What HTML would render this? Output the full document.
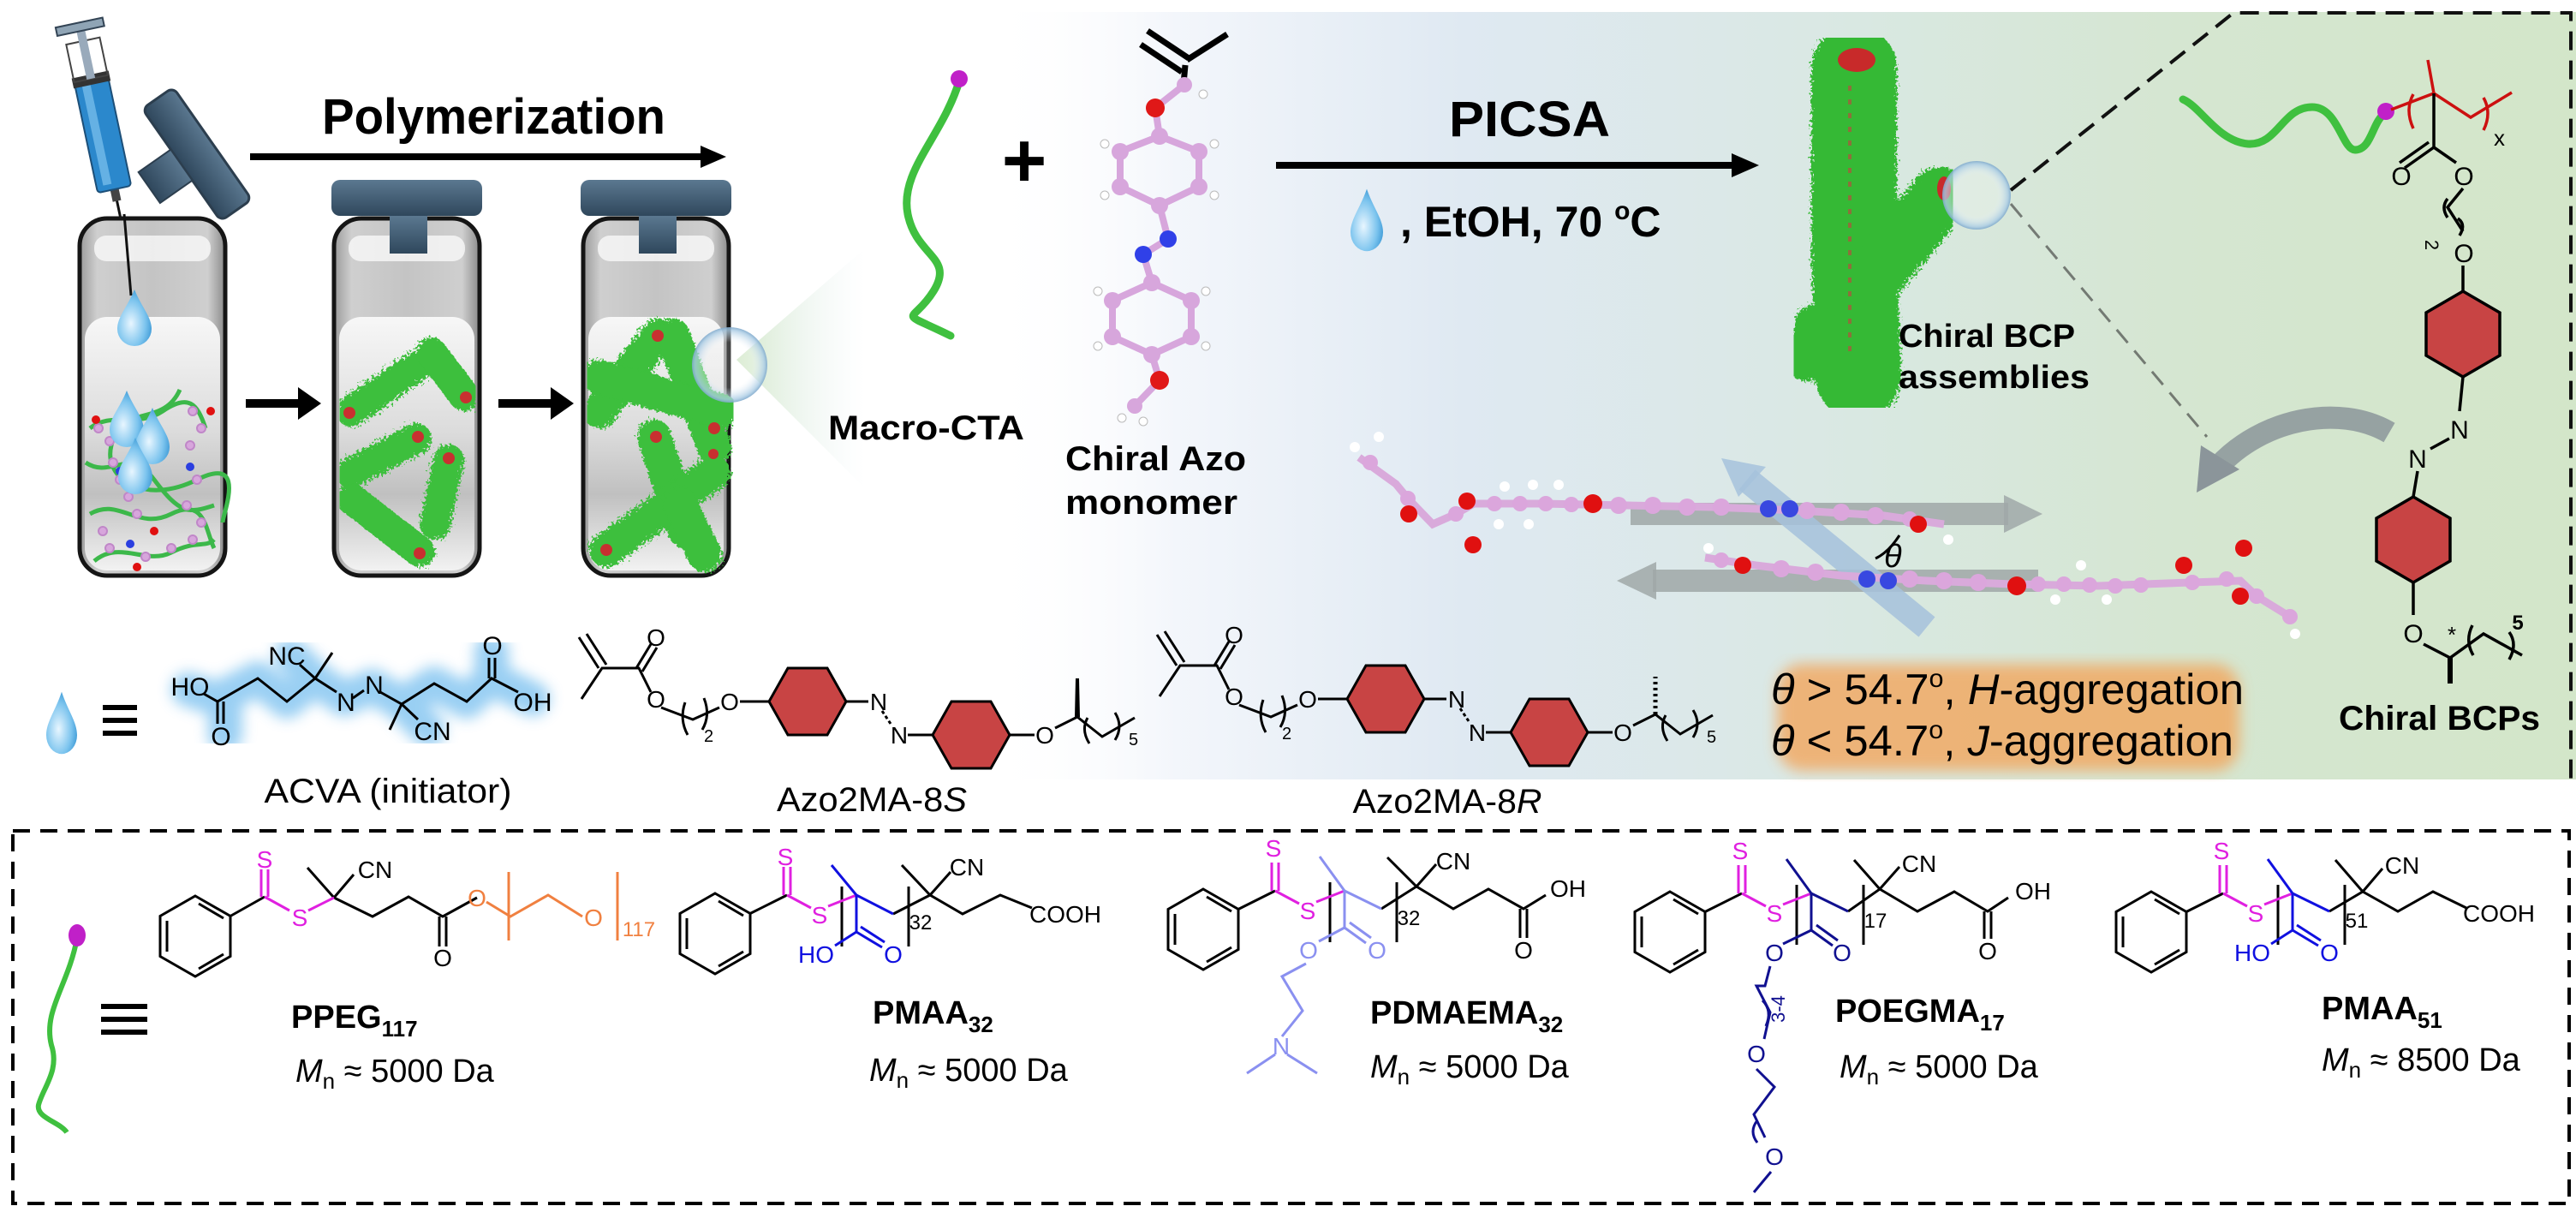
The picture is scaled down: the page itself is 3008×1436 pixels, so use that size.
<!DOCTYPE html>
<html><head><meta charset="utf-8"><style>
html,body{margin:0;padding:0;background:#fff;}
svg{display:block;}
text{font-family:"Liberation Sans",Arial,sans-serif;}
</style></head><body>
<svg width="3008" height="1436" viewBox="0 0 3008 1436" xmlns="http://www.w3.org/2000/svg">
<defs>
<linearGradient id="panel" x1="0" x2="1" y1="0" y2="0">
<stop offset="0" stop-color="#ffffff" stop-opacity="0"/>
<stop offset="0.12" stop-color="#f3f6fb"/>
<stop offset="0.3" stop-color="#dfe9f2"/>
<stop offset="0.55" stop-color="#d9e8e2"/>
<stop offset="0.75" stop-color="#d5e6d1"/>
<stop offset="1" stop-color="#d3e6c9"/>
</linearGradient>
<linearGradient id="vial" x1="0" x2="1">
<stop offset="0" stop-color="#9a9a9a"/><stop offset="0.12" stop-color="#cfcfcf"/><stop offset="0.5" stop-color="#c4c4c4"/><stop offset="0.88" stop-color="#cfcfcf"/><stop offset="1" stop-color="#8a8a8a"/>
</linearGradient>
<linearGradient id="liq" x1="0" y1="0" x2="0" y2="1">
<stop offset="0" stop-color="#f7f7f7"/><stop offset="0.45" stop-color="#dcdcdc"/><stop offset="0.7" stop-color="#c0c0c0"/><stop offset="1" stop-color="#f2f2f2"/>
</linearGradient>
<linearGradient id="cap" x1="0" x2="0" y1="0" y2="1">
<stop offset="0" stop-color="#5b7890"/><stop offset="1" stop-color="#2f475c"/>
</linearGradient>
<linearGradient id="cone" x1="0" x2="1">
<stop offset="0" stop-color="#cfe6c4" stop-opacity="0.9"/><stop offset="1" stop-color="#e8f1f6" stop-opacity="0"/>
</linearGradient>
<radialGradient id="drop" cx="0.4" cy="0.6" r="0.7">
<stop offset="0" stop-color="#e8f6ff"/><stop offset="0.6" stop-color="#7cc4ee"/><stop offset="1" stop-color="#2d8fd0"/>
</radialGradient>
<radialGradient id="bub" cx="0.5" cy="0.5" r="0.5">
<stop offset="0.6" stop-color="#ffffff" stop-opacity="0.2"/><stop offset="0.92" stop-color="#a9cbe4" stop-opacity="0.8"/><stop offset="1" stop-color="#7fa9cc" stop-opacity="0.9"/>
</radialGradient>
<filter id="blur8"><feGaussianBlur stdDeviation="8"/></filter>
<filter id="blur4"><feGaussianBlur stdDeviation="4"/></filter>
<filter id="fuzz"><feTurbulence type="fractalNoise" baseFrequency="0.35" numOctaves="2" result="n"/><feDisplacementMap in="SourceGraphic" in2="n" scale="14"/></filter>
<path id="dropP" d="M0,-34 C8,-14 20,-2 20,12 A20,20 0 0 1 -20,12 C-20,-2 -8,-14 0,-34Z"/>
</defs>

<!-- background panel -->
<rect x="1150" y="14" width="1858" height="896" fill="url(#panel)"/>
<polygon points="860,420 1010,290 1010,570" fill="url(#cone)"/>

<!-- Polymerization -->
<text x="376" y="156" font-size="58" font-weight="bold" textLength="401" lengthAdjust="spacingAndGlyphs">Polymerization</text>
<line x1="292" y1="183" x2="820" y2="183" stroke="#000" stroke-width="8"/>
<polygon points="818,170 848,183 818,196" fill="#000"/>

<!-- syringe -->
<g transform="translate(153,312) rotate(-12)">
<line x1="0" y1="0" x2="0" y2="-80" stroke="#111" stroke-width="3"/>
<rect x="-5" y="-95" width="10" height="16" fill="#444"/>
<rect x="-20" y="-225" width="40" height="132" rx="4" fill="#2b88cc" stroke="#1d4f78" stroke-width="2"/>
<rect x="-12" y="-220" width="10" height="120" fill="#7fc3ee" opacity="0.7"/>
<rect x="-22" y="-230" width="44" height="12" fill="#333"/>
<rect x="-20" y="-270" width="40" height="45" fill="none" stroke="#444" stroke-width="2"/>
<rect x="-5" y="-285" width="10" height="60" fill="#9ab"/>
<rect x="-28" y="-292" width="56" height="10" fill="#8fa4b5" stroke="#345" stroke-width="2"/>
</g>
<!-- tilted cap -->
<g transform="translate(230,180) rotate(55)">
<rect x="-80" y="-22" width="160" height="44" rx="8" fill="url(#cap)" stroke="#2c3e4e" stroke-width="3"/>
<rect x="-22" y="22" width="44" height="46" fill="url(#cap)" stroke="#2c3e4e" stroke-width="2"/>
</g>

<!-- vials -->
<g>
<rect x="93" y="255" width="170" height="417" rx="32" fill="url(#vial)" stroke="#151515" stroke-width="5"/>
<rect x="110" y="275" width="136" height="30" rx="14" fill="#fff" opacity="0.7"/>
<rect x="99" y="370" width="158" height="296" rx="26" fill="url(#liq)"/>
<line x1="145" y1="250" x2="153" y2="345" stroke="#111" stroke-width="3"/>
<use href="#dropP" transform="translate(157,372)" fill="url(#drop)"/>
<g fill="none" stroke="#3cb84a" stroke-width="5">
<path d="M210,455 C190,500 140,470 130,520 C120,560 170,590 230,560 S260,600 260,610"/>
<path d="M105,500 C130,480 160,500 190,480 S230,470 240,500"/>
<path d="M100,540 C130,560 150,520 180,560 S220,600 250,590"/>
<path d="M105,600 C140,580 160,620 200,600 S240,620 250,640"/>
<path d="M110,655 C140,630 170,660 200,645 S240,640 250,630"/>
</g>
<g fill="#d7a6dc" stroke="#c087c8" stroke-width="2">
<circle cx="115" cy="500" r="5"/><circle cx="128" cy="515" r="5"/><circle cx="132" cy="540" r="5"/><circle cx="140" cy="560" r="5"/><circle cx="150" cy="580" r="5"/><circle cx="160" cy="600" r="5"/>
<circle cx="225" cy="480" r="5"/><circle cx="235" cy="500" r="5"/><circle cx="222" cy="520" r="5"/><circle cx="230" cy="560" r="5"/><circle cx="218" cy="590" r="5"/><circle cx="235" cy="610" r="5"/>
<circle cx="120" cy="620" r="5"/><circle cx="128" cy="640" r="5"/><circle cx="170" cy="650" r="5"/><circle cx="200" cy="640" r="5"/><circle cx="225" cy="630" r="5"/>
</g>
<g fill="#2b3fe0"><circle cx="140" cy="550" r="5"/><circle cx="222" cy="545" r="5"/><circle cx="152" cy="635" r="5"/></g>
<g fill="#e01010"><circle cx="112" cy="490" r="5"/><circle cx="246" cy="480" r="5"/><circle cx="180" cy="620" r="5"/><circle cx="160" cy="662" r="5"/></g>
<use href="#dropP" transform="translate(148,490)" fill="url(#drop)"/>
<use href="#dropP" transform="translate(178,510)" fill="url(#drop)"/>
<use href="#dropP" transform="translate(158,545)" fill="url(#drop)"/>
</g>
<g>
<rect x="390" y="255" width="170" height="417" rx="32" fill="url(#vial)" stroke="#151515" stroke-width="5"/>
<rect x="407" y="275" width="136" height="30" rx="14" fill="#fff" opacity="0.7"/>
<rect x="396" y="370" width="158" height="296" rx="26" fill="url(#liq)"/>
<rect x="387" y="210" width="176" height="42" rx="10" fill="url(#cap)"/>
<rect x="455" y="252" width="44" height="44" fill="url(#cap)"/>
<g stroke="#3cbf3c" stroke-width="36" stroke-linecap="round" filter="url(#fuzz)">
<line x1="410" y1="480" x2="486" y2="428"/><line x1="504" y1="412" x2="542" y2="462"/><line x1="410" y1="552" x2="486" y2="512"/><line x1="524" y1="537" x2="508" y2="612"/><line x1="410" y1="582" x2="490" y2="644"/>
</g>
<g fill="#c83030"><circle cx="408" cy="482" r="7"/><circle cx="544" cy="464" r="7"/><circle cx="488" cy="510" r="7"/><circle cx="524" cy="535" r="7"/><circle cx="490" cy="646" r="7"/></g>
</g>
<g>
<rect x="681" y="255" width="170" height="417" rx="32" fill="url(#vial)" stroke="#151515" stroke-width="5"/>
<rect x="698" y="275" width="136" height="30" rx="14" fill="#fff" opacity="0.7"/>
<rect x="687" y="370" width="158" height="296" rx="26" fill="url(#liq)"/>
<rect x="678" y="210" width="176" height="42" rx="10" fill="url(#cap)"/>
<rect x="746" y="252" width="44" height="44" fill="url(#cap)"/>
<g stroke="#3cbf3c" stroke-width="40" stroke-linecap="round" filter="url(#fuzz)">
<line x1="700" y1="480" x2="768" y2="392"/><line x1="786" y1="392" x2="834" y2="522"/><line x1="700" y1="440" x2="842" y2="480"/><line x1="764" y1="510" x2="800" y2="620"/><line x1="708" y1="642" x2="833" y2="552"/><line x1="794" y1="588" x2="823" y2="648"/>
</g>
<g fill="#c83030"><circle cx="768" cy="392" r="7"/><circle cx="834" cy="500" r="7"/><circle cx="766" cy="510" r="7"/><circle cx="708" cy="642" r="7"/><circle cx="833" cy="530" r="6"/></g>
<circle cx="852" cy="426" r="44" fill="url(#bub)"/>
</g>
<line x1="287" y1="471" x2="350" y2="471" stroke="#000" stroke-width="10"/><polygon points="348,452 375,471 348,490" fill="#000"/>
<line x1="582" y1="471" x2="645" y2="471" stroke="#000" stroke-width="10"/><polygon points="643,452 670,471 643,490" fill="#000"/>

<!-- macro-CTA -->
<path d="M1120,95 C1100,160 1050,200 1060,250 C1070,300 1115,300 1090,340 C1065,380 1045,360 1110,392" fill="none" stroke="#3fc03f" stroke-width="9" stroke-linecap="round"/>
<circle cx="1120" cy="92" r="10" fill="#c020c8"/>
<text x="967" y="513" font-size="40" font-weight="bold" textLength="229" lengthAdjust="spacingAndGlyphs">Macro-CTA</text>
<text x="1196" y="218" font-size="90" font-weight="bold" text-anchor="middle">+</text>

<!-- Azo monomer ball stick -->
<g stroke="#000" stroke-width="7" fill="none">
<line x1="1332" y1="52" x2="1380" y2="84"/><line x1="1340" y1="36" x2="1388" y2="68"/><line x1="1386" y1="70" x2="1433" y2="40"/><line x1="1384" y1="76" x2="1382" y2="98"/>
</g>
<g stroke="#d7a6dc" stroke-width="8" fill="none">
<polyline points="1383,99 1349,126 1354,159"/>
<polygon points="1354,159 1400,177 1400,218 1354,240 1308,218 1308,177"/>
<polyline points="1354,240 1364,279 1335,297 1345,330"/>
<polygon points="1345,330 1391,351 1391,393 1345,414 1299,393 1299,351"/>
<polyline points="1345,414 1354,444 1325,474"/>
</g>
<g fill="#d7a6dc"><circle cx="1383" cy="99" r="9"/><circle cx="1354" cy="159" r="10"/><circle cx="1400" cy="177" r="10"/><circle cx="1400" cy="218" r="10"/><circle cx="1354" cy="240" r="10"/><circle cx="1308" cy="218" r="10"/><circle cx="1308" cy="177" r="10"/><circle cx="1345" cy="330" r="10"/><circle cx="1391" cy="351" r="10"/><circle cx="1391" cy="393" r="10"/><circle cx="1345" cy="414" r="10"/><circle cx="1299" cy="393" r="10"/><circle cx="1299" cy="351" r="10"/><circle cx="1325" cy="474" r="9"/></g>
<g fill="#fff" stroke="#bbb"><circle cx="1405" cy="110" r="5"/><circle cx="1418" cy="168" r="5"/><circle cx="1418" cy="228" r="5"/><circle cx="1290" cy="168" r="5"/><circle cx="1290" cy="228" r="5"/><circle cx="1408" cy="340" r="5"/><circle cx="1408" cy="404" r="5"/><circle cx="1282" cy="340" r="5"/><circle cx="1282" cy="404" r="5"/><circle cx="1310" cy="488" r="5"/><circle cx="1335" cy="492" r="5"/></g>
<g fill="#e01818"><circle cx="1349" cy="126" r="11"/><circle cx="1354" cy="444" r="11"/></g>
<g fill="#3040e8"><circle cx="1364" cy="279" r="10"/><circle cx="1335" cy="297" r="10"/></g>
<text x="1244" y="549" font-size="40" font-weight="bold" textLength="211" lengthAdjust="spacingAndGlyphs">Chiral Azo</text>
<text x="1244" y="600" font-size="40" font-weight="bold" textLength="201" lengthAdjust="spacingAndGlyphs">monomer</text>

<!-- PICSA -->
<text x="1692" y="159" font-size="58" font-weight="bold" textLength="188" lengthAdjust="spacingAndGlyphs">PICSA</text>
<line x1="1490" y1="193" x2="2025" y2="193" stroke="#000" stroke-width="8"/>
<polygon points="2022,179 2054,193 2022,207" fill="#000"/>
<use href="#dropP" transform="translate(1596,258) scale(0.95,1.1)" fill="url(#drop)"/>
<text x="1635" y="276" font-size="50" font-weight="bold">, EtOH, 70 <tspan font-size="30" dy="-20">o</tspan><tspan dy="20">C</tspan></text>

<!-- Chiral BCP assembly -->
<g filter="url(#fuzz)" stroke="#35b935" stroke-linecap="round" fill="none">
<path d="M2165,80 L2165,300 L2170,440" stroke-width="100"/>
<path d="M2190,320 L2265,230" stroke-width="70"/>
<path d="M2120,380 L2110,420" stroke-width="50"/>
</g>
<ellipse cx="2168" cy="70" rx="22" ry="14" fill="#c82a2a"/>
<line x1="2160" y1="100" x2="2160" y2="420" stroke="#c84040" stroke-width="4" stroke-dasharray="6 10" opacity="0.6"/>
<ellipse cx="2270" cy="220" rx="8" ry="14" fill="#c82a2a"/>
<circle cx="2308" cy="228" r="40" fill="url(#bub)"/>
<text x="2217" y="405" font-size="38" font-weight="bold" textLength="206" lengthAdjust="spacingAndGlyphs">Chiral BCP</text>
<text x="2217" y="453" font-size="38" font-weight="bold" textLength="223" lengthAdjust="spacingAndGlyphs">assemblies</text>

<!-- dashed zoom lines -->
<g stroke="#111" stroke-width="4" stroke-dasharray="22 12" fill="none">
<polyline points="2348,222 2608,15 3002,15 3002,910"/>
</g>
<line x1="2348" y1="238" x2="2577" y2="510" stroke="#333" stroke-width="3" stroke-dasharray="20 12" opacity="0.6"/>

<!-- BCP structure -->
<path d="M2549,116 C2570,125 2590,165 2625,168 C2660,170 2665,125 2700,125 C2730,125 2735,175 2750,175 C2770,175 2770,140 2786,132" fill="none" stroke="#3fc03f" stroke-width="9" stroke-linecap="round"/>
<circle cx="2786" cy="130" r="10" fill="#c020c8"/>
<g stroke="#cc1010" stroke-width="3.5" fill="none">
<polyline points="2792,128 2842,109 2885,137 2933,108"/><line x1="2842" y1="109" x2="2835" y2="70"/>
<path d="M2818,110 Q2808,128 2818,150"/><path d="M2900,114 Q2910,132 2900,152"/>
</g>
<text x="2912" y="170" font-size="26">x</text>
<g stroke="#000" stroke-width="3.5" fill="none">
<line x1="2842" y1="109" x2="2842" y2="172"/>
<line x1="2842" y1="172" x2="2808" y2="196"/><line x1="2836" y1="166" x2="2802" y2="190"/>
<line x1="2842" y1="172" x2="2868" y2="190"/>
<polyline points="2876,220 2858,242 2876,270"/>
<path d="M2858,232 Q2850,242 2858,254"/><path d="M2870,255 Q2880,262 2872,275"/>
<line x1="2876" y1="310" x2="2876" y2="340"/>
<polygon points="2876,340 2919,365 2919,415 2876,440 2833,415 2833,365" fill="#c84444"/>
<line x1="2876" y1="440" x2="2872" y2="480"/>
<line x1="2860" y1="512" x2="2838" y2="524"/>
<line x1="2823" y1="550" x2="2818" y2="580"/>
<polygon points="2818,580 2861,605 2861,655 2818,680 2775,655 2775,605" fill="#c84444"/>
<line x1="2818" y1="680" x2="2818" y2="718"/>
<polyline points="2830,752 2861,768 2900,740 2945,765"/>
<line x1="2861" y1="768" x2="2861" y2="798" stroke-width="6"/>
<path d="M2887,730 Q2878,748 2888,765"/><path d="M2930,738 Q2940,752 2930,770"/>
</g>
<g font-size="30" text-anchor="middle">
<text x="2804" y="216">O</text><text x="2877" y="216">O</text><text x="2877" y="306">O</text>
<text x="2872" y="512">N</text><text x="2823" y="546">N</text><text x="2818" y="750">O</text>
<text x="2863" y="750" font-size="26">*</text><text x="2940" y="735" font-size="24" font-weight="bold">5</text>
<text x="2838" y="292" font-size="22" transform="rotate(90 2838 286)">2</text>
</g>
<text x="2731" y="852" font-size="40" font-weight="bold" textLength="235" lengthAdjust="spacingAndGlyphs">Chiral BCPs</text>
<path d="M2790,505 C2730,470 2640,490 2590,545" fill="none" stroke="#8b959a" stroke-width="26" opacity="0.85"/>
<polygon points="2565,575 2570,520 2615,548" fill="#8b959a"/>

<!-- stacked molecules + arrows -->
<line x1="1904" y1="600" x2="2345" y2="600" stroke="#a0a8a8" stroke-width="26" opacity="0.85"/>
<polygon points="2340,578 2385,600 2340,622" fill="#a0a8a8" opacity="0.85"/>
<line x1="1930" y1="678" x2="2380" y2="678" stroke="#a0a8a8" stroke-width="26" opacity="0.85"/>
<polygon points="1934,656 1888,678 1934,700" fill="#a0a8a8" opacity="0.85"/>
<line x1="2040" y1="560" x2="2250" y2="732" stroke="#a6c2dc" stroke-width="30" opacity="0.85"/>
<polygon points="2010,535 2062,545 2030,580" fill="#a6c2dc" opacity="0.85"/>
<g stroke="#d9aadb" stroke-width="9" fill="none">
<polyline points="1587,534 1630,565 1644,582 1673,612 1700,600 1721,588 1800,588 1900,590 2000,592 2100,596 2200,602 2270,612"/>
<polyline points="1991,651 2050,660 2150,672 2250,678 2350,682 2450,684 2558,680 2616,678 2635,696 2674,720"/>
</g>
<g fill="#dba6dc">
<circle cx="1600" cy="540" r="9"/><circle cx="1644" cy="582" r="9"/><circle cx="1700" cy="600" r="9"/><circle cx="1745" cy="588" r="9"/><circle cx="1775" cy="588" r="9"/><circle cx="1805" cy="588" r="9"/><circle cx="1835" cy="589" r="9"/><circle cx="1890" cy="590" r="10"/><circle cx="1930" cy="590" r="10"/><circle cx="1970" cy="592" r="10"/><circle cx="2010" cy="592" r="10"/><circle cx="2110" cy="596" r="10"/><circle cx="2150" cy="598" r="10"/><circle cx="2190" cy="602" r="10"/><circle cx="2230" cy="606" r="9"/>
<circle cx="2010" cy="654" r="9"/><circle cx="2080" cy="664" r="10"/><circle cx="2120" cy="668" r="10"/><circle cx="2230" cy="676" r="10"/><circle cx="2270" cy="678" r="10"/><circle cx="2310" cy="680" r="10"/><circle cx="2380" cy="682" r="9"/><circle cx="2410" cy="682" r="9"/><circle cx="2440" cy="683" r="9"/><circle cx="2470" cy="684" r="9"/><circle cx="2500" cy="683" r="9"/><circle cx="2560" cy="680" r="9"/><circle cx="2600" cy="676" r="9"/><circle cx="2635" cy="696" r="9"/><circle cx="2674" cy="720" r="9"/>
</g>
<g fill="#fff"><circle cx="1582" cy="522" r="6"/><circle cx="1610" cy="510" r="6"/><circle cx="1757" cy="568" r="6"/><circle cx="1790" cy="566" r="6"/><circle cx="1820" cy="566" r="6"/><circle cx="1750" cy="612" r="6"/><circle cx="1785" cy="612" r="6"/><circle cx="2275" cy="630" r="6"/><circle cx="2400" cy="700" r="6"/><circle cx="2430" cy="660" r="6"/><circle cx="2460" cy="700" r="6"/><circle cx="2680" cy="740" r="6"/><circle cx="1995" cy="640" r="6"/></g>
<g fill="#e01010"><circle cx="1645" cy="600" r="10"/><circle cx="1720" cy="636" r="10"/><circle cx="1713" cy="585" r="10"/><circle cx="1860" cy="588" r="11"/><circle cx="2240" cy="612" r="10"/><circle cx="2035" cy="660" r="10"/><circle cx="2355" cy="684" r="11"/><circle cx="2550" cy="660" r="10"/><circle cx="2616" cy="696" r="10"/><circle cx="2620" cy="640" r="10"/></g>
<g fill="#3848e0"><circle cx="2065" cy="594" r="10"/><circle cx="2090" cy="594" r="10"/><circle cx="2180" cy="676" r="10"/><circle cx="2205" cy="678" r="10"/></g>
<path d="M2218,625 Q2205,645 2190,652" fill="none" stroke="#000" stroke-width="3"/>
<text x="2200" y="662" font-size="38" font-style="italic">θ</text>

<!-- theta box -->
<rect x="2075" y="775" width="540" height="125" rx="30" fill="#f4a254" opacity="0.75" filter="url(#blur8)"/>
<text x="2068" y="822" font-size="50" textLength="552" lengthAdjust="spacingAndGlyphs"><tspan font-style="italic">θ</tspan> &gt; 54.7<tspan font-size="30" dy="-20">o</tspan><tspan dy="20">, </tspan><tspan font-style="italic">H</tspan>-aggregation</text>
<text x="2068" y="882" font-size="50" textLength="540" lengthAdjust="spacingAndGlyphs"><tspan font-style="italic">θ</tspan> &lt; 54.7<tspan font-size="30" dy="-20">o</tspan><tspan dy="20">, </tspan><tspan font-style="italic">J</tspan>-aggregation</text>

<!-- ACVA row -->
<use href="#dropP" transform="translate(72,845) scale(0.9,1.1)" fill="url(#drop)"/>
<g stroke="#000" stroke-width="6"><line x1="120" y1="826" x2="160" y2="826"/><line x1="120" y1="841" x2="160" y2="841"/><line x1="120" y1="856" x2="160" y2="856"/></g>
<g filter="url(#blur8)" stroke="#8fcaf2" stroke-width="40" fill="none" stroke-linecap="round" stroke-linejoin="round" opacity="0.9">
<polyline points="220,805 254,816 301,792 335,819 368,792 402,816 435,801 469,822 507,798 545,819 574,792 622,816"/>
<line x1="263" y1="820" x2="263" y2="858"/><line x1="368" y1="792" x2="340" y2="765"/><line x1="469" y1="822" x2="500" y2="852"/><line x1="574" y1="792" x2="574" y2="760"/>
</g>
<g stroke="#000" stroke-width="3" fill="none">
<polyline points="238,810 254,819 301,792 335,819 368,792 393,808"/>
<line x1="254" y1="819" x2="254" y2="845"/><line x1="261" y1="819" x2="261" y2="845"/>
<line x1="368" y1="792" x2="388" y2="762"/><line x1="368" y1="792" x2="350" y2="776"/>
<line x1="412" y1="815" x2="425" y2="806"/>
<polyline points="444,808 469,822 507,798 545,819 574,792 605,808"/>
<line x1="469" y1="822" x2="455" y2="852"/><line x1="469" y1="822" x2="488" y2="840"/>
<line x1="571" y1="792" x2="571" y2="768"/><line x1="578" y1="792" x2="578" y2="768"/>
</g>
<g font-size="30" text-anchor="middle">
<text x="222" y="812">HO</text><text x="258" y="870">O</text><text x="335" y="776">NC</text><text x="404" y="830">N</text><text x="437" y="810">N</text><text x="505" y="864">CN</text><text x="575" y="764">O</text><text x="622" y="830">OH</text>
</g>
<text x="453" y="937" font-size="40" text-anchor="middle" textLength="289" lengthAdjust="spacingAndGlyphs">ACVA (initiator)</text>

<!-- Azo2MA-8S -->
<g id="azoS">
<g stroke="#000" stroke-width="3" fill="none">
<polyline points="679,816 703,780 746,780 760,808"/><line x1="676" y1="744" x2="699" y2="780"/><line x1="685" y1="740" x2="708" y2="776"/>
<line x1="743" y1="780" x2="760" y2="752"/><line x1="750" y1="784" x2="767" y2="756"/>
<polyline points="772,826 809,840 840,826"/>
<path d="M800,820 Q793,840 803,858"/><path d="M822,815 Q830,835 820,852"/>
<line x1="864" y1="819" x2="898" y2="819"/>
<polygon points="898,819 920,780 966,780 988,819 966,858 920,858" fill="#c84444"/>
<line x1="988" y1="819" x2="1014" y2="819"/><line x1="1030" y1="830" x2="1040" y2="845" stroke-dasharray="4 3"/>
<line x1="1060" y1="858" x2="1089" y2="858"/>
<polygon points="1089,858 1111,819 1157,819 1179,858 1157,897 1111,897" fill="#c84444"/>
<line x1="1179" y1="858" x2="1208" y2="858"/>
<polyline points="1232,850 1258,837 1287,860 1325,838"/>
<path d="M1270,838 Q1262,852 1272,868"/><path d="M1302,832 Q1312,848 1302,864"/>
</g>
<g font-size="28" text-anchor="middle"><text x="766" y="754">O</text><text x="766" y="826">O</text><text x="852" y="829">O</text><text x="1026" y="829">N</text><text x="1050" y="868">N</text><text x="1220" y="868">O</text></g>
<g font-size="20"><text x="822" y="866">2</text><text x="1318" y="870">5</text></g>
</g>
<polygon points="1255,837 1261,837 1260,792 1256,792" fill="#000"/>
<text x="1018" y="947" font-size="40" text-anchor="middle" textLength="222" lengthAdjust="spacingAndGlyphs">Azo2MA-8<tspan font-style="italic">S</tspan></text>
<use href="#azoS" transform="translate(675,-3)"/>
<line x1="1933" y1="834" x2="1933" y2="790" stroke="#000" stroke-width="5" stroke-dasharray="3 4"/>
<text x="1690" y="949" font-size="40" text-anchor="middle" textLength="221" lengthAdjust="spacingAndGlyphs">Azo2MA-8<tspan font-style="italic">R</tspan></text>

<!-- bottom dashed box -->
<rect x="15" y="970" width="2985" height="435" fill="none" stroke="#000" stroke-width="4" stroke-dasharray="20 12"/>
<path d="M90,1095 C80,1150 50,1180 60,1220 C70,1250 50,1270 45,1290 C42,1305 70,1310 78,1322" fill="none" stroke="#3fc03f" stroke-width="6"/>
<ellipse cx="90" cy="1092" rx="10" ry="13" fill="#c020c8"/>
<g stroke="#000" stroke-width="6"><line x1="118" y1="1175" x2="172" y2="1175"/><line x1="118" y1="1190" x2="172" y2="1190"/><line x1="118" y1="1205" x2="172" y2="1205"/></g>

<!-- PPEG -->
<g transform="translate(228,1093)">
<g stroke="#000" stroke-width="3" fill="none">
<polygon points="0,-47 41,-23.5 41,23.5 0,47 -41,23.5 -41,-23.5"/>
<line x1="-33" y1="-18" x2="-33" y2="18"/><line x1="4" y1="38" x2="33" y2="21"/><line x1="4" y1="-38" x2="33" y2="-21"/>
<line x1="41" y1="-23.5" x2="81" y2="-46"/>
<polyline points="131,-80 162,-45 207,-23 249,-46 289,-23 329,-45"/><line x1="162" y1="-45" x2="185" y2="-72"/>
<line x1="285" y1="-23" x2="285" y2="12"/><line x1="293" y1="-23" x2="293" y2="12"/>
</g>
<g stroke="#e020e0" stroke-width="3" fill="none"><line x1="77" y1="-46" x2="77" y2="-78"/><line x1="85" y1="-46" x2="85" y2="-78"/><line x1="81" y1="-46" x2="110" y2="-30"/><line x1="132" y1="-30" x2="162" y2="-45"/></g>
<g stroke="#f08040" stroke-width="3" fill="none"><polyline points="340,-40 368,-23 412,-48 452,-23"/><line x1="366" y1="-75" x2="366" y2="5"/><line x1="493" y1="-75" x2="493" y2="5"/></g>
<g font-size="28" text-anchor="middle">
<text x="81" y="-80" fill="#e020e0">S</text><text x="122" y="-12" fill="#e020e0">S</text>
<text x="210" y="-68">CN</text><text x="289" y="35">O</text>
<text x="329" y="-35" fill="#f08040">O</text><text x="465" y="-12" fill="#f08040">O</text>
<text x="518" y="0" fill="#f08040" font-size="24">117</text>
</g>
</g>
<text x="340" y="1200" font-size="38" font-weight="bold">PPEG<tspan font-size="26" dy="10">117</tspan></text>
<text x="345" y="1263" font-size="38"><tspan font-style="italic">M</tspan><tspan font-size="26" dy="8">n</tspan><tspan dy="-8"> ≈ 5000 Da</tspan></text>

<!-- PMAA32 -->
<g transform="translate(835,1090)">
<g stroke="#000" stroke-width="3" fill="none">
<polygon points="0,-47 41,-23.5 41,23.5 0,47 -41,23.5 -41,-23.5"/>
<line x1="-33" y1="-18" x2="-33" y2="18"/><line x1="4" y1="38" x2="33" y2="21"/><line x1="4" y1="-38" x2="33" y2="-21"/>
<line x1="41" y1="-23.5" x2="84" y2="-45"/>
<polyline points="208,-23 251,-45 289,-23 333,-45 370,-30"/><line x1="251" y1="-45" x2="218" y2="-80"/><line x1="251" y1="-45" x2="275" y2="-72"/>
<line x1="148" y1="-55" x2="148" y2="15"/><line x1="226" y1="-55" x2="226" y2="15"/>
</g>
<g stroke="#e020e0" stroke-width="3" fill="none"><line x1="80" y1="-45" x2="80" y2="-78"/><line x1="88" y1="-45" x2="88" y2="-78"/><line x1="84" y1="-45" x2="112" y2="-30"/><line x1="132" y1="-32" x2="165" y2="-45"/></g>
<g stroke="#1010e0" stroke-width="3" fill="none"><line x1="136" y1="-80" x2="165" y2="-45"/><line x1="165" y1="-45" x2="165" y2="-2"/><polyline points="208,-23 165,-45"/><line x1="165" y1="-2" x2="140" y2="14"/><line x1="165" y1="-2" x2="195" y2="16"/><line x1="170" y1="-8" x2="198" y2="10"/></g>
<g font-size="28" text-anchor="middle">
<text x="82" y="-80" fill="#e020e0">S</text><text x="122" y="-12" fill="#e020e0">S</text>
<text x="294" y="-68">CN</text><text x="409" y="-13">COOH</text>
<text x="118" y="34" fill="#1010e0">HO</text><text x="208" y="34" fill="#1010e0">O</text>
<text x="240" y="-5" font-size="24">32</text>
</g>
</g>
<text x="1019" y="1195" font-size="38" font-weight="bold">PMAA<tspan font-size="26" dy="10">32</tspan></text>
<text x="1015" y="1262" font-size="38"><tspan font-style="italic">M</tspan><tspan font-size="26" dy="8">n</tspan><tspan dy="-8"> ≈ 5000 Da</tspan></text>

<!-- PDMAEMA32 -->
<g transform="translate(1405,1085)">
<g stroke="#000" stroke-width="3" fill="none">
<polygon points="0,-47 41,-23.5 41,23.5 0,47 -41,23.5 -41,-23.5"/>
<line x1="-33" y1="-18" x2="-33" y2="18"/><line x1="4" y1="38" x2="33" y2="21"/><line x1="4" y1="-38" x2="33" y2="-21"/>
<line x1="41" y1="-23.5" x2="84" y2="-45"/>
<polyline points="208,-24 249,-50 292,-24 333,-47 374,-24 400,-40"/><line x1="249" y1="-50" x2="215" y2="-84"/><line x1="249" y1="-50" x2="272" y2="-76"/>
<line x1="370" y1="-24" x2="370" y2="10"/><line x1="378" y1="-24" x2="378" y2="10"/>
<line x1="148" y1="-55" x2="148" y2="15"/><line x1="226" y1="-55" x2="226" y2="15"/>
</g>
<g stroke="#e020e0" stroke-width="3" fill="none"><line x1="80" y1="-45" x2="80" y2="-78"/><line x1="88" y1="-45" x2="88" y2="-78"/><line x1="84" y1="-45" x2="112" y2="-30"/><line x1="132" y1="-32" x2="165" y2="-45"/></g>
<g stroke="#8a90f0" stroke-width="3" fill="none"><line x1="136" y1="-85" x2="165" y2="-45"/><line x1="165" y1="-45" x2="165" y2="-2"/><polyline points="208,-24 165,-45"/><line x1="165" y1="-2" x2="135" y2="14"/><line x1="165" y1="-2" x2="190" y2="16"/><line x1="171" y1="-8" x2="196" y2="10"/>
<polyline points="120,40 92,55 116,95 92,125"/><line x1="84" y1="146" x2="51" y2="168"/><line x1="98" y1="146" x2="133" y2="168"/></g>
<g font-size="28" text-anchor="middle">
<text x="82" y="-85" fill="#e020e0">S</text><text x="122" y="-12" fill="#e020e0">S</text>
<text x="292" y="-70">CN</text><text x="426" y="-38">OH</text><text x="374" y="34">O</text>
<text x="123" y="34" fill="#8a90f0">O</text><text x="203" y="34" fill="#8a90f0">O</text><text x="91" y="146" fill="#8a90f0">N</text>
<text x="240" y="-5" font-size="24">32</text>
</g>
</g>
<text x="1600" y="1195" font-size="38" font-weight="bold">PDMAEMA<tspan font-size="26" dy="10">32</tspan></text>
<text x="1600" y="1258" font-size="38"><tspan font-style="italic">M</tspan><tspan font-size="26" dy="8">n</tspan><tspan dy="-8"> ≈ 5000 Da</tspan></text>

<!-- POEGMA17 -->
<g transform="translate(1950,1088)">
<g stroke="#000" stroke-width="3" fill="none">
<polygon points="0,-47 41,-23.5 41,23.5 0,47 -41,23.5 -41,-23.5"/>
<line x1="-33" y1="-18" x2="-33" y2="18"/><line x1="4" y1="38" x2="33" y2="21"/><line x1="4" y1="-38" x2="33" y2="-21"/>
<line x1="41" y1="-23.5" x2="84" y2="-45"/>
<polyline points="208,-24 245,-50 289,-24 332,-47 371,-24 395,-40"/><line x1="245" y1="-50" x2="215" y2="-84"/><line x1="245" y1="-50" x2="268" y2="-76"/>
<line x1="367" y1="-24" x2="367" y2="8"/><line x1="375" y1="-24" x2="375" y2="8"/>
<line x1="148" y1="-55" x2="148" y2="15"/><line x1="226" y1="-55" x2="226" y2="15"/>
</g>
<g stroke="#e020e0" stroke-width="3" fill="none"><line x1="80" y1="-45" x2="80" y2="-78"/><line x1="88" y1="-45" x2="88" y2="-78"/><line x1="84" y1="-45" x2="112" y2="-30"/><line x1="132" y1="-32" x2="165" y2="-45"/></g>
<g stroke="#101090" stroke-width="3" fill="none"><line x1="136" y1="-85" x2="165" y2="-45"/><line x1="165" y1="-45" x2="165" y2="-2"/><polyline points="208,-24 165,-45"/><line x1="165" y1="-2" x2="132" y2="14"/><line x1="165" y1="-2" x2="190" y2="16"/><line x1="171" y1="-8" x2="196" y2="10"/>
<polyline points="117,40 111,63 101,63 117,94 110,125"/><polyline points="101,160 122,181 98,213 111,240"/><polyline points="118,280 98,304"/>
<path d="M108,80 Q120,92 112,110"/><path d="M102,220 Q92,233 102,246"/></g>
<g font-size="28" text-anchor="middle" fill="#101090">
<text x="122" y="34">O</text><text x="201" y="34">O</text><text x="101" y="152">O</text><text x="122" y="272">O</text>
<text x="128" y="96" font-size="22" transform="rotate(-90 128 90)">3-4</text>
</g>
<g font-size="28" text-anchor="middle">
<text x="82" y="-85" fill="#e020e0">S</text><text x="122" y="-12" fill="#e020e0">S</text>
<text x="291" y="-70">CN</text><text x="424" y="-38">OH</text><text x="371" y="32">O</text>
<text x="240" y="-5" font-size="24">17</text>
</g>
</g>
<text x="2143" y="1193" font-size="38" font-weight="bold">POEGMA<tspan font-size="26" dy="10">17</tspan></text>
<text x="2148" y="1258" font-size="38"><tspan font-style="italic">M</tspan><tspan font-size="26" dy="8">n</tspan><tspan dy="-8"> ≈ 5000 Da</tspan></text>

<!-- PMAA51 -->
<g transform="translate(2512,1088)">
<g stroke="#000" stroke-width="3" fill="none">
<polygon points="0,-47 41,-23.5 41,23.5 0,47 -41,23.5 -41,-23.5"/>
<line x1="-33" y1="-18" x2="-33" y2="18"/><line x1="4" y1="38" x2="33" y2="21"/><line x1="4" y1="-38" x2="33" y2="-21"/>
<line x1="41" y1="-23.5" x2="84" y2="-45"/>
<polyline points="208,-24 247,-47 288,-24 329,-47 368,-28"/><line x1="247" y1="-47" x2="215" y2="-84"/><line x1="247" y1="-47" x2="270" y2="-74"/>
<line x1="148" y1="-55" x2="148" y2="15"/><line x1="226" y1="-55" x2="226" y2="15"/>
</g>
<g stroke="#e020e0" stroke-width="3" fill="none"><line x1="80" y1="-45" x2="80" y2="-78"/><line x1="88" y1="-45" x2="88" y2="-78"/><line x1="84" y1="-45" x2="112" y2="-30"/><line x1="132" y1="-32" x2="165" y2="-45"/></g>
<g stroke="#1010e0" stroke-width="3" fill="none"><line x1="136" y1="-85" x2="165" y2="-45"/><line x1="165" y1="-45" x2="165" y2="-2"/><polyline points="208,-24 165,-45"/><line x1="165" y1="-2" x2="140" y2="14"/><line x1="165" y1="-2" x2="195" y2="16"/><line x1="170" y1="-8" x2="198" y2="10"/></g>
<g font-size="28" text-anchor="middle">
<text x="82" y="-85" fill="#e020e0">S</text><text x="122" y="-12" fill="#e020e0">S</text>
<text x="293" y="-68">CN</text><text x="406" y="-12">COOH</text>
<text x="118" y="34" fill="#1010e0">HO</text><text x="208" y="34" fill="#1010e0">O</text>
<text x="240" y="-5" font-size="24">51</text>
</g>
</g>
<text x="2711" y="1190" font-size="38" font-weight="bold">PMAA<tspan font-size="26" dy="10">51</tspan></text>
<text x="2711" y="1250" font-size="38"><tspan font-style="italic">M</tspan><tspan font-size="26" dy="8">n</tspan><tspan dy="-8"> ≈ 8500 Da</tspan></text>
</svg>
</body></html>
